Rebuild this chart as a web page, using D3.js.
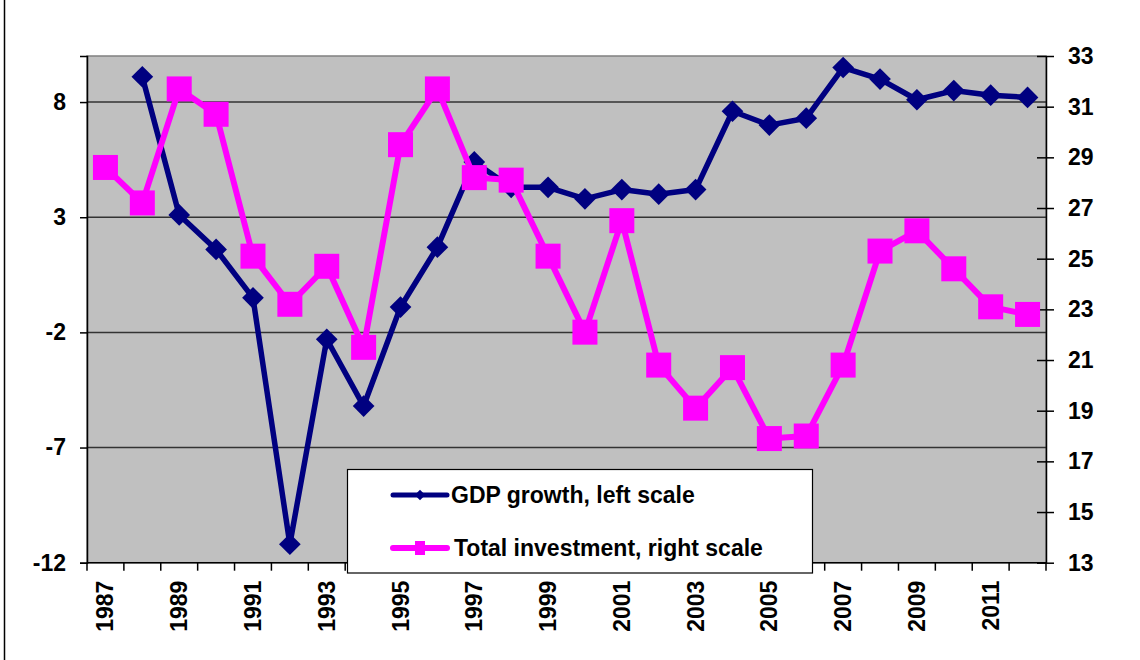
<!DOCTYPE html>
<html>
<head>
<meta charset="utf-8">
<script src="https://cdn.jsdelivr.net/npm/d3@7"></script>
<style>
  html, body { margin: 0; padding: 0; background: #fff; }
  svg { display: block; font-family: "Liberation Sans", Arial, sans-serif; }
</style>
</head>
<body>
<svg id="chart" width="1140" height="660"></svg>
<script>
const years = [1987,1988,1989,1990,1991,1992,1993,1994,1995,1996,1997,1998,1999,2000,2001,2002,2003,2004,2005,2006,2007,2008,2009,2010,2011,2012];
const gdpGrowth = [null,9.1,3.1,1.6,-0.5,-11.2,-2.3,-5.2,-0.9,1.7,5.4,4.3,4.3,3.8,4.2,4.0,4.2,7.6,7.0,7.3,9.5,9.0,8.1,8.5,8.3,8.2];
const investment = [28.6,27.2,31.7,30.7,25.1,23.2,24.7,21.5,29.5,31.7,28.2,28.1,25.1,22.1,26.5,20.8,19.1,20.7,17.9,18.0,20.8,25.3,26.1,24.6,23.1,22.8];
const leftTicks = [-12,-7,-2,3,8];
const rightTicks = [13,15,17,19,21,23,25,27,29,31,33];
const yearLabels = [1987,1989,1991,1993,1995,1997,1999,2001,2003,2005,2007,2009,2011];
const legendLabels = ["GDP growth, left scale", "Total investment, right scale"];

const svg = d3.select("#chart");
const L = 87, R = 1046, T = 56, B = 562.7;
const fontSize = 23;
const fmt = d => String(d);

const x = d3.scaleBand().domain(years).range([L, R]).padding(0);
const yL = d3.scaleLinear().domain([-12, 10]).range([B, T]);
const yR = d3.scaleLinear().domain([13, 33]).range([B, T]);
const cx = d => x(d) + x.bandwidth() / 2;

// outer chart frame (left edge visible)
svg.append("line").attr("x1", 4.5).attr("x2", 4.5).attr("y1", 0).attr("y2", 660)
  .attr("stroke", "#000").attr("stroke-width", 1.5);

// plot area
svg.append("rect").attr("x", L).attr("y", T).attr("width", R - L).attr("height", B - T)
  .attr("fill", "#c0c0c0").attr("stroke", "#808080").attr("stroke-width", 1.5);

// gridlines (left scale)
svg.append("g").selectAll("line").data(leftTicks.filter(t => t !== -12)).join("line")
  .attr("x1", L).attr("x2", R).attr("y1", d => yL(d)).attr("y2", d => yL(d))
  .attr("stroke", "#333").attr("stroke-width", 1.5);

// left axis
const gL = svg.append("g").attr("transform", `translate(${L},0)`)
  .call(d3.axisLeft(yL).tickValues(leftTicks).tickSize(7).tickPadding(14).tickFormat(fmt));
gL.select(".domain").attr("stroke", "#000").attr("stroke-width", 1.5);
gL.selectAll(".tick line").attr("stroke", "#000").attr("stroke-width", 1.5);
gL.selectAll("text").attr("font-size", fontSize).attr("font-weight", "bold").attr("fill", "#000")
  .attr("font-family", "Liberation Sans, Arial, sans-serif");

// right axis
const gR = svg.append("g").attr("transform", `translate(${R},0)`)
  .call(d3.axisRight(yR).tickValues(rightTicks).tickSizeInner(8).tickSizeOuter(0).tickPadding(14).tickFormat(fmt));
gR.select(".domain").attr("stroke", "#000").attr("stroke-width", 1.5);
gR.selectAll(".tick line").attr("stroke", "#000").attr("stroke-width", 1.5).attr("x1", -9);
gR.selectAll("text").attr("font-size", fontSize).attr("font-weight", "bold").attr("fill", "#000")
  .attr("font-family", "Liberation Sans, Arial, sans-serif");

// bottom axis
svg.append("line").attr("x1", L).attr("x2", R).attr("y1", B).attr("y2", B)
  .attr("stroke", "#000").attr("stroke-width", 1.5);
const tickXs = years.map(d => x(d)).concat([R]);
svg.append("g").selectAll("line").data(tickXs).join("line")
  .attr("x1", d => d).attr("x2", d => d).attr("y1", B).attr("y2", B + 8)
  .attr("stroke", "#000").attr("stroke-width", 1.5);
svg.append("g").selectAll("text").data(yearLabels).join("text")
  .attr("transform", d => `translate(${cx(d) + 8},${B + 18}) rotate(-90)`)
  .attr("text-anchor", "end")
  .attr("font-size", fontSize).attr("font-weight", "bold").attr("fill", "#000")
  .text(d => d);

// GDP line
const gdpData = years.map((yr, i) => ({yr, v: gdpGrowth[i]})).filter(d => d.v !== null);
const invData = years.map((yr, i) => ({yr, v: investment[i]}));

svg.append("path").datum(gdpData)
  .attr("d", d3.line().x(d => cx(d.yr)).y(d => yL(d.v)))
  .attr("fill", "none").attr("stroke", "#000080").attr("stroke-width", 5.5).attr("stroke-linejoin", "round");
svg.append("g").selectAll("path").data(gdpData).join("path")
  .attr("d", d3.symbol(d3.symbolDiamond2, 300))
  .attr("transform", d => `translate(${cx(d.yr)},${yL(d.v)})`)
  .attr("fill", "#000080");

// Investment line
svg.append("path").datum(invData)
  .attr("d", d3.line().x(d => cx(d.yr)).y(d => yR(d.v)))
  .attr("fill", "none").attr("stroke", "#ff00ff").attr("stroke-width", 6).attr("stroke-linejoin", "round");
const sq = 25;
svg.append("g").selectAll("rect").data(invData).join("rect")
  .attr("x", d => cx(d.yr) - sq / 2).attr("y", d => yR(d.v) - sq / 2)
  .attr("width", sq).attr("height", sq).attr("fill", "#ff00ff");

// legend
const lg = svg.append("g");
lg.append("rect").attr("x", 347.5).attr("y", 469.5).attr("width", 465).attr("height", 103.5)
  .attr("fill", "#fff").attr("stroke", "#000").attr("stroke-width", 1.2);
const legY = [495, 548];
lg.append("line").attr("x1", 393).attr("x2", 447).attr("y1", legY[0]).attr("y2", legY[0])
  .attr("stroke", "#000080").attr("stroke-width", 5).attr("stroke-linecap", "round");
lg.append("path").attr("d", d3.symbol(d3.symbolDiamond2, 70))
  .attr("transform", `translate(420,${legY[0]})`).attr("fill", "#000080");
lg.append("line").attr("x1", 393).attr("x2", 447).attr("y1", legY[1]).attr("y2", legY[1])
  .attr("stroke", "#ff00ff").attr("stroke-width", 6).attr("stroke-linecap", "round");
lg.append("rect").attr("x", 415).attr("y", legY[1] - 7).attr("width", 10).attr("height", 14).attr("fill", "#ff00ff");
lg.selectAll("text").data(legendLabels).join("text")
  .attr("x", (d, i) => i === 0 ? 451 : 454).attr("y", (d, i) => legY[i])
  .attr("dy", "0.36em")
  .attr("font-size", fontSize).attr("font-weight", "bold").attr("fill", "#000")
  .text(d => d);
</script>
</body>
</html>
